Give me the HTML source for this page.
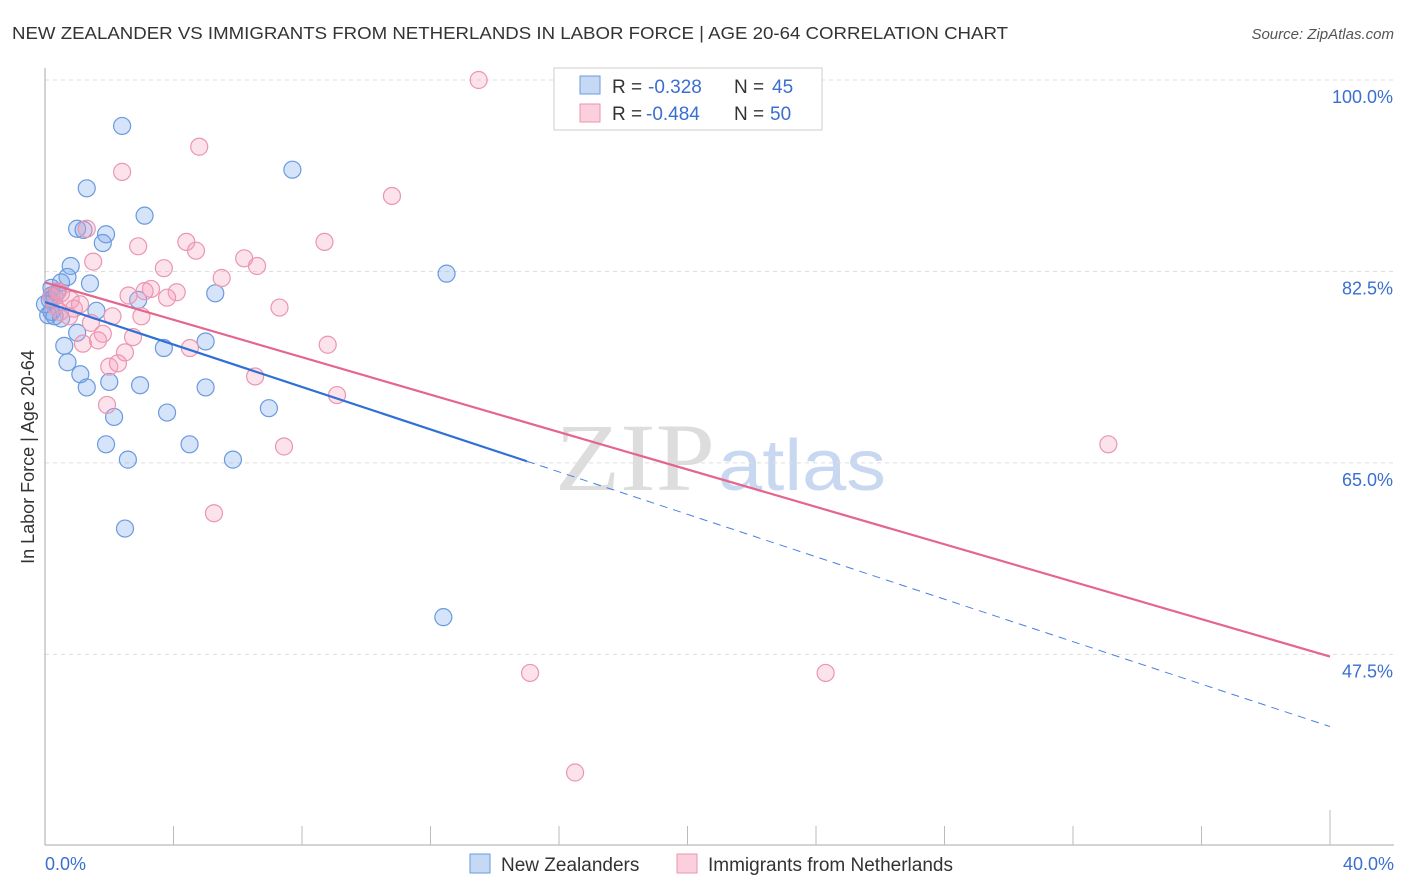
<!DOCTYPE html>
<html><head><meta charset="utf-8"><style>
body{margin:0;background:#fff;font-family:"Liberation Sans",sans-serif;}
</style></head><body>
<svg width="1406" height="892" style="display:block">
<text x="12" y="39" font-size="17.5" fill="#333" textLength="996" lengthAdjust="spacingAndGlyphs">NEW ZEALANDER VS IMMIGRANTS FROM NETHERLANDS IN LABOR FORCE | AGE 20-64 CORRELATION CHART</text>
<text x="1394" y="39" font-size="15" fill="#555" font-style="italic" text-anchor="end">Source: ZipAtlas.com</text>
<text x="555" y="490" font-size="96" fill="#ddd" textLength="160" lengthAdjust="spacingAndGlyphs" font-family="Liberation Serif,serif">ZIP</text>
<text x="718" y="490" font-size="72" fill="#c8d8f0" textLength="168" lengthAdjust="spacingAndGlyphs">atlas</text>
<g id="grid"></g>
<line x1="45" y1="68" x2="45" y2="845" stroke="#aaa"/>
<line x1="45" y1="845" x2="1394" y2="845" stroke="#aaa"/>
<g id="xt"></g>
<text x="45" y="870" font-size="18" fill="#3a6fd0">0.0%</text>
<text x="1394" y="870" font-size="18" fill="#3a6fd0" text-anchor="end">40.0%</text>
<text transform="translate(34,457) rotate(-90)" font-size="18" fill="#333" text-anchor="middle">In Labor Force | Age 20-64</text>
<g id="pts"></g><g id="lines"></g>
<g>
<rect x="554" y="68" width="268" height="62" fill="#fff" stroke="#ccc"/>
<rect x="580" y="76" width="20" height="18" fill="#c5d9f5" stroke="#6a9ae0"/>
<rect x="580" y="104" width="20" height="18" fill="#fbd0dc" stroke="#eb96b0"/>
<text x="612" y="93" font-size="19" fill="#333">R =</text>
<text x="648" y="93" font-size="19" fill="#3a6fd0">-0.328</text>
<text x="734" y="93" font-size="19" fill="#333">N =</text>
<text x="772" y="93" font-size="19" fill="#3a6fd0">45</text>
<text x="612" y="120" font-size="19" fill="#333">R =</text>
<text x="646" y="120" font-size="19" fill="#3a6fd0">-0.484</text>
<text x="734" y="120" font-size="19" fill="#333">N =</text>
<text x="770" y="120" font-size="19" fill="#3a6fd0">50</text>
</g>
<g>
<rect x="470" y="854" width="20" height="19" fill="#c5d9f5" stroke="#6a9ae0"/>
<text x="501" y="871" font-size="19" fill="#333">New Zealanders</text>
<rect x="677" y="854" width="20" height="19" fill="#fbd0dc" stroke="#eb96b0"/>
<text x="708" y="871" font-size="19" fill="#333">Immigrants from Netherlands</text>
</g>
</svg>
<script>
const yTicks=[100,82.5,65,47.5];
const yTickLabels=["100.0%","82.5%","65.0%","47.5%"];
const blueX=[2.4,7.7,1.3,3.1,1.0,1.2,1.9,1.8,0.8,0.7,0.5,0.2,1.4,5.3,12.5,0.2,0.3,2.9,1.6,0.1,0.3,0.5,1.0,0.6,5.0,3.7,0.7,1.1,2.0,1.3,2.96,5.0,3.8,6.97,2.15,1.9,4.5,2.58,5.85,2.49,12.4,0.15,0.0,0.37,0.2];
const blueY=[95.8,91.8,90.1,87.6,86.4,86.3,85.9,85.1,83.0,82.0,81.5,81.0,81.4,80.5,82.3,80.3,80.2,79.9,78.9,78.5,78.4,78.2,76.9,75.7,76.1,75.5,74.2,73.1,72.4,71.9,72.1,71.9,69.6,70.0,69.2,66.7,66.7,65.3,65.3,59.0,50.9,79.9,79.5,80.6,78.8];
const pinkX=[13.5,4.8,2.4,10.8,1.3,2.9,4.4,4.7,8.7,1.5,6.2,6.6,3.7,5.5,3.3,4.1,3.1,2.6,3.8,7.3,0.8,0.5,0.2,0.3,0.9,0.75,1.43,3.0,2.1,1.8,2.74,1.18,1.65,4.51,8.8,2.49,2.0,2.27,6.54,9.09,1.93,7.44,5.26,33.1,15.1,24.3,16.5,0.4,1.09,0.47];
const pinkY=[100,93.9,91.6,89.4,86.4,84.8,85.2,84.4,85.2,83.4,83.7,83.0,82.8,81.9,80.9,80.6,80.7,80.3,80.1,79.2,79.9,80.5,80.2,79.4,79.1,78.4,77.8,78.4,78.4,76.8,76.5,75.9,76.2,75.5,75.8,75.1,73.8,74.1,72.9,71.2,70.3,66.5,60.4,66.7,45.8,45.8,36.7,80.7,79.5,78.8];
const trendX=[0,40];
const blueTrend=[79.7,40.9];
const pinkTrend=[81.5,47.3];
const blueSolidEnd=15;
const X=v=>45+v*(1285/40);
const Y=v=>80+(100-v)*10.94;
const NS="http://www.w3.org/2000/svg";
function mk(t,a,p){const e=document.createElementNS(NS,t);for(const k in a)e.setAttribute(k,a[k]);p.appendChild(e);return e;}
const grid=document.getElementById('grid');
yTicks.forEach((t,i)=>{
 const l=mk('line',{x1:45,x2:1394,y1:Y(t),y2:Y(t),stroke:'#ddd','stroke-dasharray':'4,4'},grid);
 
 
 const tx=mk('text',{x:1393,y:Y(t)+23,'font-size':18,fill:'#3a6fd0','text-anchor':'end'},grid);
 tx.textContent=yTickLabels[i];
 
 
});
const xt=document.getElementById('xt');
for(let i=1;i<=10;i++){
 const x=X(i*4);
 const l=mk('line',{x1:x,x2:x,y1:i==10?810:826,y2:845,stroke:'#bbb'},xt);
 
 
}
const pts=document.getElementById('pts');
blueX.forEach((v,i)=>{
 const c=mk('circle',{cx:X(v),cy:Y(blueY[i]),r:8.5,fill:'rgba(120,165,235,0.3)',stroke:'#6a9ae0','stroke-width':1.2},pts);
 
 
});
pinkX.forEach((v,i)=>{
 const c=mk('circle',{cx:X(v),cy:Y(pinkY[i]),r:8.5,fill:'rgba(245,160,190,0.3)',stroke:'#eb96b0','stroke-width':1.2},pts);
 
 
});
const lines=document.getElementById('lines');
const bAt=x=>blueTrend[0]+(blueTrend[1]-blueTrend[0])*(x-trendX[0])/(trendX[1]-trendX[0]);
let l=mk('line',{x1:X(trendX[0]),y1:Y(blueTrend[0]),x2:X(blueSolidEnd),y2:Y(bAt(blueSolidEnd)),stroke:'#2f6fd6','stroke-width':2.2},lines);


l=mk('line',{x1:X(blueSolidEnd),y1:Y(bAt(blueSolidEnd)),x2:X(trendX[1]),y2:Y(blueTrend[1]),stroke:'#4a80dd','stroke-width':1,'stroke-dasharray':'8,6'},lines);


l=mk('line',{x1:X(trendX[0]),y1:Y(pinkTrend[0]),x2:X(trendX[1]),y2:Y(pinkTrend[1]),stroke:'#e4668f','stroke-width':2.2},lines);


</script>
</body></html>
